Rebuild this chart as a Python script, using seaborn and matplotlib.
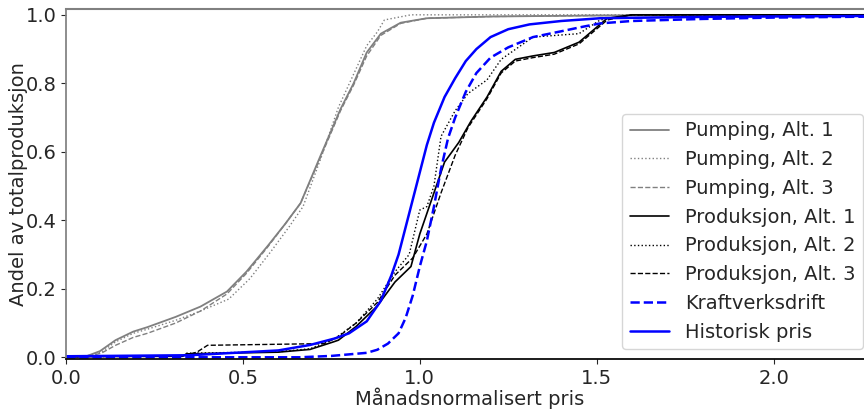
import matplotlib
matplotlib.use("Agg")
import matplotlib.pyplot as plt
import pandas as pd
import seaborn as sns

# Verdiar lesne av frå figuren (pris, andel)
pump1_x = [0.0, 0.02, 0.06, 0.096, 0.14, 0.19, 0.23, 0.31, 0.38, 0.455, 0.51, 0.57, 0.62, 0.663, 0.72, 0.776, 0.813, 0.85, 0.89, 0.946, 1.02, 1.2, 1.5, 2.3]
pump1_y = [0.0, 0.0, 0.004, 0.018, 0.05, 0.075, 0.088, 0.118, 0.148, 0.192, 0.25, 0.325, 0.39, 0.45, 0.59, 0.725, 0.80, 0.89, 0.945, 0.977, 0.99, 0.995, 0.998, 1.0]
pump2_x = [0.0, 0.02, 0.06, 0.1, 0.14, 0.19, 0.23, 0.31, 0.38, 0.46, 0.52, 0.58, 0.63, 0.67, 0.72, 0.77, 0.81, 0.85, 0.88, 0.90, 0.975, 1.2, 1.5, 2.3]
pump2_y = [0.0, 0.0, 0.004, 0.015, 0.045, 0.07, 0.082, 0.108, 0.135, 0.17, 0.23, 0.31, 0.38, 0.44, 0.58, 0.73, 0.82, 0.91, 0.95, 0.985, 1.0, 1.0, 1.0, 1.0]
pump3_x = [0.0, 0.02, 0.06, 0.1, 0.14, 0.19, 0.23, 0.31, 0.38, 0.455, 0.51, 0.57, 0.62, 0.663, 0.72, 0.776, 0.813, 0.85, 0.89, 0.946, 1.02, 1.2, 1.5, 2.3]
pump3_y = [0.0, 0.0, 0.003, 0.012, 0.035, 0.058, 0.07, 0.1, 0.135, 0.185, 0.245, 0.322, 0.39, 0.45, 0.585, 0.72, 0.795, 0.88, 0.94, 0.975, 0.99, 0.995, 0.998, 1.0]

prod1_x = [0.0, 0.33, 0.34, 0.6, 0.69, 0.756, 0.77, 0.82, 0.88, 0.93, 0.975, 1.0, 1.04, 1.07, 1.11, 1.145, 1.19, 1.23, 1.27, 1.32, 1.38, 1.45, 1.49, 1.53, 1.6, 2.3]
prod1_y = [0.002, 0.003, 0.01, 0.015, 0.023, 0.045, 0.05, 0.09, 0.15, 0.22, 0.265, 0.36, 0.48, 0.57, 0.627, 0.69, 0.76, 0.835, 0.87, 0.88, 0.89, 0.92, 0.955, 0.99, 1.0, 1.0]
prod2_x = [0.0, 0.33, 0.34, 0.6, 0.69, 0.76, 0.82, 0.88, 0.93, 0.97, 1.0, 1.02, 1.04, 1.06, 1.1, 1.136, 1.19, 1.23, 1.32, 1.45, 1.51, 1.6, 2.3]
prod2_y = [0.002, 0.003, 0.012, 0.016, 0.025, 0.055, 0.1, 0.17, 0.25, 0.3, 0.43, 0.44, 0.5, 0.645, 0.72, 0.77, 0.81, 0.87, 0.935, 0.945, 0.985, 1.0, 1.0]
prod3_x = [0.0, 0.33, 0.37, 0.40, 0.73, 0.77, 0.82, 0.88, 0.93, 0.98, 1.02, 1.06, 1.1, 1.136, 1.19, 1.23, 1.27, 1.32, 1.38, 1.45, 1.49, 1.53, 1.6, 2.3]
prod3_y = [0.002, 0.004, 0.015, 0.035, 0.04, 0.06, 0.1, 0.16, 0.24, 0.29, 0.36, 0.48, 0.59, 0.67, 0.755, 0.83, 0.865, 0.875, 0.885, 0.915, 0.95, 0.985, 1.0, 1.0]

kraft_x = [0.0, 0.66, 0.75, 0.85, 0.88, 0.91, 0.94, 0.96, 0.98, 1.0, 1.02, 1.04, 1.06, 1.08, 1.1, 1.13, 1.16, 1.2, 1.25, 1.32, 1.4, 1.46, 1.51, 1.6, 1.8, 2.0, 2.3]
kraft_y = [0.0, 0.0, 0.004, 0.013, 0.022, 0.04, 0.07, 0.115, 0.18, 0.265, 0.34, 0.44, 0.55, 0.64, 0.70, 0.775, 0.83, 0.875, 0.905, 0.935, 0.952, 0.965, 0.975, 0.982, 0.988, 0.992, 0.995]
hist_x = [0.0, 0.35, 0.6, 0.69, 0.76, 0.80, 0.85, 0.89, 0.92, 0.94, 0.96, 0.98, 1.0, 1.02, 1.04, 1.07, 1.1, 1.13, 1.16, 1.2, 1.25, 1.31, 1.4, 1.51, 1.8, 2.3]
hist_y = [0.003, 0.006, 0.02, 0.036, 0.055, 0.07, 0.105, 0.165, 0.24, 0.3, 0.38, 0.46, 0.54, 0.62, 0.685, 0.76, 0.815, 0.865, 0.9, 0.935, 0.958, 0.972, 0.982, 0.99, 0.994, 0.997]

series = [
    ("Pumping, Alt. 1", pump1_x, pump1_y, "#808080", "-", 1.3),
    ("Pumping, Alt. 2", pump2_x, pump2_y, "#808080", ":", 1.0),
    ("Pumping, Alt. 3", pump3_x, pump3_y, "#808080", "--", 1.0),
    ("Produksjon, Alt. 1", prod1_x, prod1_y, "black", "-", 1.2),
    ("Produksjon, Alt. 2", prod2_x, prod2_y, "black", ":", 1.0),
    ("Produksjon, Alt. 3", prod3_x, prod3_y, "black", "--", 1.0),
    ("Kraftverksdrift", kraft_x, kraft_y, "blue", "--", 1.8),
    ("Historisk pris", hist_x, hist_y, "blue", "-", 1.8),
]

sns.set_theme(style="ticks")
plt.rcParams["font.family"] = ["DejaVu Sans"]
plt.rcParams["font.size"] = 14

fig = plt.figure(figsize=(8.64, 4.09), dpi=100)
ax = fig.add_axes([66 / 864, 50 / 409, 1.01 - 66 / 864, 350 / 409])

for name, xs, ys, color, ls, lw in series:
    df = pd.DataFrame({"pris": xs, "andel": ys})
    sns.lineplot(data=df, x="pris", y="andel", ax=ax, color=color, linestyle=ls,
                 linewidth=lw, label=name, estimator=None, sort=False)

ax.set_xlim(0, 2.28)
ax.set_ylim(-0.005, 1.017)
ax.set_xticks([0.0, 0.5, 1.0, 1.5, 2.0])
ax.set_yticks([0.0, 0.2, 0.4, 0.6, 0.8, 1.0])
ax.tick_params(labelsize=14, length=3.5, width=0.8)
ax.set_xlabel("Månadsnormalisert pris", fontsize=14, labelpad=0)
ax.set_ylabel("Andel av totalproduksjon", fontsize=14, labelpad=-2)

ax.spines["right"].set_visible(False)
ax.spines["top"].set_color("#808080")
ax.spines["top"].set_linewidth(1.5)
ax.spines["left"].set_color("#808080")
ax.spines["bottom"].set_color("black")

ax.legend(loc="lower right", fontsize=14, frameon=True, framealpha=0.8,
          edgecolor="#cccccc", handlelength=2.0)

fig.savefig("out.png", dpi=100)
